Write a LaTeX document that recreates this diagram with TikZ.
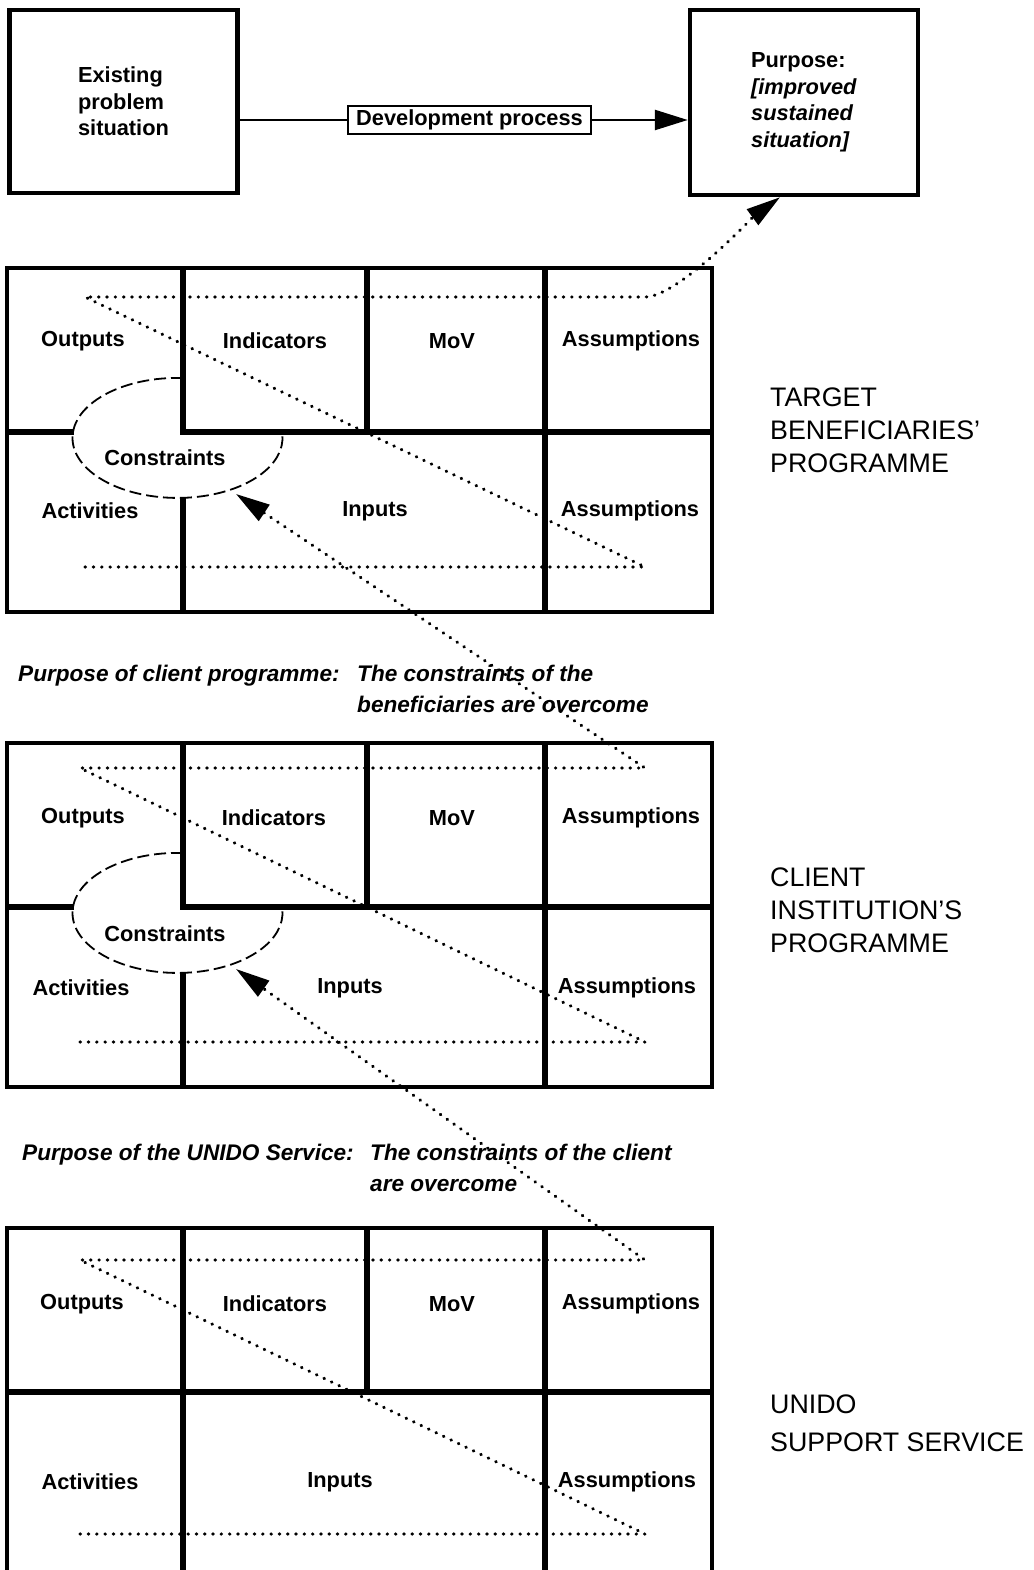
\documentclass[tikz,border=0pt]{standalone}
\usepackage{fontspec}
\setmainfont{Liberation Sans}
\usetikzlibrary{arrows.meta,positioning,calc}

\begin{document}
\begin{tikzpicture}[x=1pt,y=-1pt,
    every node/.style={font=\bfseries\fontsize{21.8}{26.5}\selectfont,inner sep=0pt},
    box/.style={draw,line width=4.5pt,align=left},
    link/.style={line width=2.5pt},
    frame/.style={line width=4.5pt},
    grid/.style={line width=6pt},
    trail/.style={line width=3.2pt,line cap=round,dash pattern=on 0.5pt off 7.8pt,
      -{Triangle[length=34pt,width=19pt]}},
    constr/.style={line width=1.8pt,dash pattern=on 12pt off 5pt},
    mid/.style={font=\bfseries\itshape\fontsize{22.6}{31}\selectfont,anchor=north west,align=left},
    level/.style={font=\fontsize{26.8}{33}\selectfont,anchor=west,align=left}]
  \useasboundingbox (0,0) rectangle (1033,1570);

  % development chain at the top
  \node[box,minimum width=228pt,minimum height=183pt] (now) at (123.5,101.5) {Existing\\problem\\situation};
  \node[box,minimum width=228pt,minimum height=185pt] (goal) at (804,102.5)
    {Purpose:\\\textit{[improved}\\\textit{sustained}\\\textit{situation]}};
  \node[draw,line width=2pt,minimum width=243pt,minimum height=28pt] (dev) at (469.5,120) {Development process};
  \draw[link] (now.east |- dev) -- (dev);
  \draw[link,-{Triangle[length=33pt,width=20pt]}] (dev) -- (goal.west |- dev);
  \coordinate (goal-in) at ([xshift=-24pt]goal.south);

  % target beneficiaries
  \begin{scope}[shift={(0,268)}]
    \draw[frame] (7,0) rectangle (712,344);
    \draw[grid] (183,0) -- (183,164) -- (712,164);
    \draw[grid] (367,0) -- (367,164);
    \draw[grid] (545,0) -- (545,344);
    \draw[grid] (7,164) -- (74,164);
    \draw[grid] (183,230) -- (183,344);
    \draw[constr] (183,110) arc[start angle=87,end angle=368,x radius=105pt,y radius=60pt];

    \node (t-out) at (83,73) {Outputs};
    \node (t-ind) at (275,73) {Indicators};
    \node (t-mov) at (452,73) {MoV};
    \node (t-as1) at (631,73) {Assumptions};
    \node (t-con) at (165,190) {Constraints};
    \node (t-act) at (90,243) {Activities};
    \node (t-inp) at (375,243) {Inputs};
    \node (t-as2) at (630,243) {Assumptions};

    \coordinate (t-tl) at (85,29);
    \coordinate (t-tr) at (645,29);
    \coordinate (t-bl) at (85,299);
    \coordinate (t-br) at (645,299);
    \coordinate (t-aim) at (236,226);
  \end{scope}
  \draw[trail] (t-bl) -- (t-br) -- (t-tl) -- (t-tr) to[out=0,in=216,looseness=0.5] (goal-in);
  \node[level] (t-name) at (770,430) {TARGET\\BENEFICIARIES'\\PROGRAMME};

  \node[mid] (c-why) at (18,665) {Purpose of client programme:};
  \node[mid] (c-what) at (357,665) {The constraints of the\\beneficiaries are overcome};

  % client institution
  \begin{scope}[shift={(0,743)}]
    \draw[frame] (7,0) rectangle (712,344);
    \draw[grid] (183,0) -- (183,164) -- (712,164);
    \draw[grid] (367,0) -- (367,164);
    \draw[grid] (545,0) -- (545,344);
    \draw[grid] (7,164) -- (74,164);
    \draw[grid] (183,230) -- (183,344);
    \draw[constr] (183,110) arc[start angle=87,end angle=368,x radius=105pt,y radius=60pt];

    \node (c-out) at (83,75) {Outputs};
    \node (c-ind) at (274,75) {Indicators};
    \node (c-mov) at (452,75) {MoV};
    \node (c-as1) at (631,75) {Assumptions};
    \node (c-con) at (165,191) {Constraints};
    \node (c-act) at (81,245) {Activities};
    \node (c-inp) at (350,245) {Inputs};
    \node (c-as2) at (627,245) {Assumptions};

    \coordinate (c-tl) at (80,25);
    \coordinate (c-tr) at (645,25);
    \coordinate (c-bl) at (80,299);
    \coordinate (c-br) at (645,299);
    \coordinate (c-aim) at (236,226);
  \end{scope}
  \draw[trail] (c-bl) -- (c-br) -- (c-tl) -- (c-tr) -- (t-aim);
  \node[level] (c-name) at (770,910) {CLIENT\\INSTITUTION'S\\PROGRAMME};

  \node[mid] (u-why) at (22,1144) {Purpose of the UNIDO Service:};
  \node[mid] (u-what) at (370,1144) {The constraints of the client\\are overcome};

  % UNIDO support service
  \begin{scope}[shift={(0,1228)}]
    \draw[frame] (7,346) -- (7,0) -- (712,0) -- (712,346);
    \draw[grid] (183,0) -- (183,346);
    \draw[grid] (367,0) -- (367,164);
    \draw[grid] (545,0) -- (545,346);
    \draw[grid] (7,164) -- (712,164);

    \node (u-out) at (82,76) {Outputs};
    \node (u-ind) at (275,76) {Indicators};
    \node (u-mov) at (452,76) {MoV};
    \node (u-as1) at (631,76) {Assumptions};
    \node (u-act) at (90,254) {Activities};
    \node (u-inp) at (340,254) {Inputs};
    \node (u-as2) at (627,254) {Assumptions};

    \coordinate (u-tl) at (80,32);
    \coordinate (u-tr) at (645,32);
    \coordinate (u-bl) at (80,306);
    \coordinate (u-br) at (645,306);
  \end{scope}
  \draw[trail] (u-bl) -- (u-br) -- (u-tl) -- (u-tr) -- (c-aim);
  \node[level] (u-name) at (770,1423) {UNIDO\\[5pt]SUPPORT SERVICE};
\end{tikzpicture}
\end{document}
